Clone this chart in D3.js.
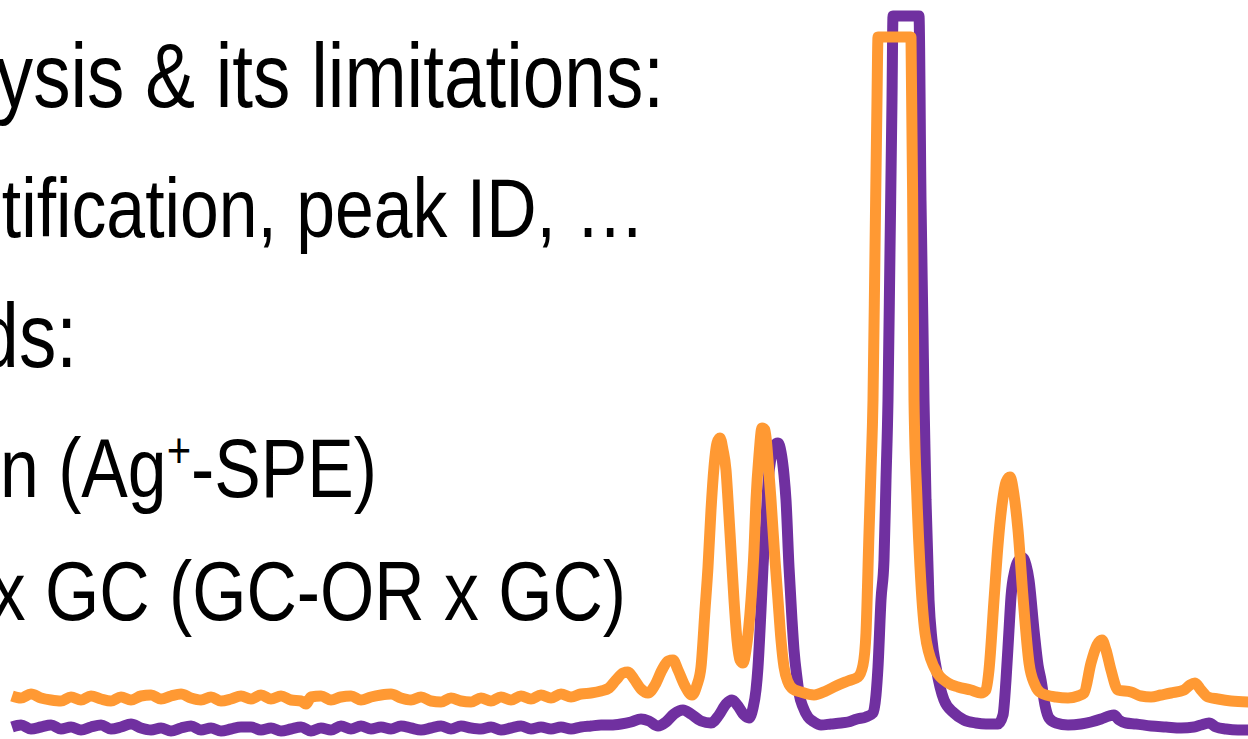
<!DOCTYPE html>
<html>
<head>
<meta charset="utf-8">
<script src="https://cdn.jsdelivr.net/npm/d3@7"></script>
<style>
  html, body { margin: 0; padding: 0; background: #ffffff; overflow: hidden; }
  svg { display: block; }
</style>
</head>
<body>
<script>
// Retention time (min) and detector response (a.u.) for the two stacked chromatograms
const purpleTime = [0.00,0.09,0.19,0.29,0.39,0.49,0.59,0.69,0.79,0.89,0.99,1.09,1.19,1.29,1.39,1.49,1.59,1.69,1.79,1.89,1.99,2.09,2.19,2.29,2.39,2.49,2.59,2.69,2.79,2.89,2.99,3.09,3.19,3.29,3.39,3.49,3.59,3.69,3.79,3.89,3.99,4.09,4.19,4.29,4.39,4.49,4.59,4.69,4.79,4.89,4.99,5.09,5.19,5.29,5.39,5.49,5.59,5.69,5.79,5.89,5.99,6.09,6.19,6.29,6.37,6.46,6.54,6.62,6.71,6.79,6.89,6.99,7.07,7.14,7.20,7.26,7.32,7.37,7.41,7.44,7.46,7.49,7.51,7.54,7.56,7.59,7.62,7.66,7.69,7.72,7.74,7.77,7.80,7.82,7.85,7.87,7.91,7.96,8.02,8.09,8.19,8.29,8.36,8.45,8.54,8.61,8.64,8.66,8.69,8.72,8.74,8.76,8.78,8.80,8.81,9.07,9.09,9.11,9.12,9.14,9.17,9.20,9.24,9.32,9.42,9.52,9.64,9.74,9.86,9.91,9.94,9.97,9.99,10.03,10.07,10.11,10.14,10.17,10.22,10.26,10.29,10.33,10.37,10.44,10.56,10.69,10.79,10.89,10.97,11.02,11.07,11.14,11.24,11.39,11.54,11.69,11.82,11.89,11.97,12.04,12.14,12.26,12.37];
const purpleSignal = [0.3,0.5,0.1,0.3,0.5,0.1,0.3,0.0,0.3,0.5,0.1,0.3,0.6,0.2,0.0,0.2,-0.1,0.2,0.4,0.0,0.2,-0.1,0.1,0.3,0.3,0.0,0.2,-0.1,0.1,0.3,-0.1,0.2,0.0,0.4,0.1,0.4,0.1,0.3,0.1,0.4,0.2,0.0,0.2,0.4,0.1,0.4,0.2,0.1,0.3,0.0,0.2,0.4,0.1,0.3,0.1,0.3,0.1,0.3,0.4,0.5,0.5,0.6,0.8,1.1,0.9,0.4,0.8,1.6,2.0,1.6,0.9,0.7,1.5,2.6,3.0,2.4,1.5,1.2,2.2,4.0,6.3,12.0,16.3,21.0,24.7,27.2,28.4,28.7,27.8,25.5,23.0,16.3,11.0,8.0,5.2,3.7,2.3,1.3,0.8,0.5,0.6,0.7,0.8,1.1,1.3,1.7,3.5,6.3,13.0,17.0,25.0,33.0,48.0,63.0,71.4,71.4,53.0,40.0,33.0,23.0,13.0,9.0,6.3,3.0,1.7,1.0,0.7,0.6,0.6,1.5,5.0,10.0,13.3,16.0,17.0,17.2,16.5,15.0,10.0,6.5,5.0,2.5,1.2,0.7,0.5,0.6,0.8,1.1,1.4,1.5,1.0,0.7,0.6,0.4,0.3,0.2,0.3,0.5,0.7,0.3,0.1,0.0,0.0];

const orangeTime = [0.00,0.09,0.19,0.29,0.39,0.49,0.59,0.69,0.79,0.89,0.99,1.09,1.19,1.29,1.39,1.49,1.59,1.69,1.79,1.89,1.99,2.09,2.19,2.29,2.39,2.49,2.59,2.69,2.79,2.89,2.94,2.99,3.09,3.19,3.29,3.39,3.49,3.59,3.69,3.79,3.89,3.99,4.09,4.19,4.29,4.39,4.49,4.59,4.69,4.79,4.89,4.99,5.09,5.19,5.29,5.39,5.49,5.59,5.69,5.79,5.89,5.97,6.04,6.11,6.16,6.22,6.29,6.36,6.43,6.50,6.56,6.61,6.66,6.73,6.80,6.85,6.89,6.93,6.96,6.99,7.02,7.05,7.08,7.11,7.14,7.16,7.19,7.22,7.25,7.28,7.31,7.34,7.39,7.42,7.44,7.47,7.50,7.53,7.56,7.59,7.63,7.66,7.69,7.72,7.76,7.81,7.89,8.02,8.14,8.24,8.36,8.46,8.51,8.54,8.57,8.59,8.61,8.63,8.65,8.66,8.99,9.01,9.02,9.05,9.08,9.13,9.22,9.36,9.46,9.59,9.69,9.74,9.77,9.82,9.86,9.90,9.94,9.98,10.02,10.06,10.11,10.17,10.23,10.29,10.44,10.56,10.66,10.72,10.79,10.85,10.90,10.94,10.99,11.06,11.19,11.29,11.39,11.49,11.59,11.72,11.78,11.83,11.89,11.96,12.06,12.19,12.37];
const orangeSignal = [3.4,3.2,3.6,3.2,3.0,2.9,3.3,3.0,3.4,3.1,2.9,3.3,3.0,3.4,3.5,3.1,3.4,3.6,3.2,3.0,3.3,2.9,3.1,3.4,3.1,3.5,3.1,3.4,3.0,2.9,2.6,3.3,3.4,3.0,3.3,3.4,3.0,3.3,3.5,3.6,3.2,3.0,3.3,2.9,2.8,3.2,2.9,2.8,3.2,2.9,3.3,3.0,3.4,3.1,3.5,3.2,3.6,3.3,3.6,3.7,3.9,4.2,5.0,5.7,5.8,5.1,4.1,3.7,4.5,6.0,6.9,7.0,6.0,4.4,3.5,4.5,6.3,12.0,16.3,22.0,26.3,28.7,29.2,28.0,26.0,23.0,18.0,13.0,9.0,7.0,6.7,8.0,13.0,18.0,23.0,27.5,30.2,30.0,27.0,23.0,17.0,13.0,9.0,6.3,4.8,4.1,3.8,3.5,3.9,4.4,4.9,5.3,6.5,9.7,19.7,26.0,33.0,48.0,63.0,69.3,69.3,48.0,33.0,23.0,16.3,9.7,6.3,4.7,4.3,4.0,3.7,4.0,6.0,13.0,18.5,22.5,24.8,25.3,23.5,20.0,13.3,6.7,4.5,3.7,3.3,3.2,3.4,3.7,6.7,8.5,9.0,8.0,6.0,4.0,3.8,3.4,3.3,3.5,3.7,4.0,4.5,4.7,4.0,3.3,3.1,2.9,2.8];

// Slide bullet text (left part runs past the frame edge)
const bulletLines = ["ysis & its limitations:", "tification, peak ID, \u2026", "ds:", ["n (Ag", "+", "-SPE)"], "x GC (GC-OR x GC)"];
const bulletLevels = [1, 2, 1, 2, 2];

const traceColors = ["#7030A0", "#FF9933"];

const W = 1248, H = 739;
const svg = d3.select("body").append("svg").attr("width", W).attr("height", H);

const x = d3.scaleLinear().domain([0, 12.37]).range([12, 1249]);
const y = d3.scaleLinear().domain([0, 71.4]).range([730, 16]);

// text block
const fontSize = {1: 90, 2: 84};
const baselines = [107, 237, 367, 497, 620];
const rightEdges = [664, 645, 77, 377, 626];
const squeeze = 0.83;

const textG = svg.append("g")
  .attr("font-family", "'Liberation Sans', Arial, sans-serif")
  .attr("fill", "#000");

bulletLines.forEach((line, i) => {
  const t = textG.append("text")
    .attr("text-anchor", "end")
    .attr("font-size", fontSize[bulletLevels[i]])
    .attr("transform", `translate(${rightEdges[i]},${baselines[i]}) scale(${squeeze},1)`);
  if (Array.isArray(line)) {
    t.append("tspan").text(line[0]);
    t.append("tspan").attr("font-size", fontSize[bulletLevels[i]] * 0.6).attr("dy", -30).text(line[1]);
    t.append("tspan").attr("dy", 30).text(line[2]);
  } else {
    t.text(line);
  }
});

// chromatogram traces
const line = d3.line().x(d => x(d[0])).y(d => y(d[1])).curve(d3.curveMonotoneX);

const series = [
  d3.zip(purpleTime, purpleSignal),
  d3.zip(orangeTime, orangeSignal)
];

svg.append("g").selectAll("path")
  .data(series)
  .join("path")
  .attr("d", line)
  .attr("fill", "none")
  .attr("stroke", (d, i) => traceColors[i])
  .attr("stroke-width", 11)
  .attr("stroke-linejoin", "round")
  .attr("stroke-linecap", "butt");
</script>
</body>
</html>
